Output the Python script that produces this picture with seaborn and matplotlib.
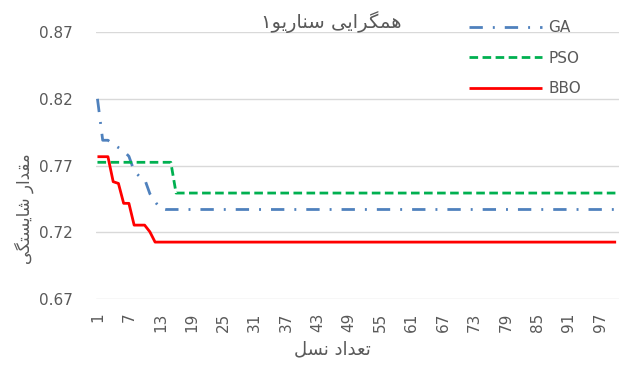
import matplotlib
matplotlib.use("Agg")
import matplotlib.pyplot as plt
import seaborn as sns
import pandas as pd

# ---- data -------------------------------------------------------------
generations = list(range(1, 101))
tick_positions = list(range(1, 101, 6))
y_ticks = [0.67, 0.72, 0.77, 0.82, 0.87]

ga = [
    0.820, 0.789, 0.789, 0.786, 0.7835, 0.781, 0.777, 0.766, 0.762, 0.760,
    0.749, 0.743, 0.738, 0.7372, 0.7372, 0.7372, 0.7372, 0.7372, 0.7372, 0.7372,
    0.7372, 0.7372, 0.7372, 0.7372, 0.7372, 0.7372, 0.7372, 0.7372, 0.7372, 0.7372,
    0.7372, 0.7372, 0.7372, 0.7372, 0.7372, 0.7372, 0.7372, 0.7372, 0.7372, 0.7372,
    0.7372, 0.7372, 0.7372, 0.7372, 0.7372, 0.7372, 0.7372, 0.7372, 0.7372, 0.7372,
    0.7372, 0.7372, 0.7372, 0.7372, 0.7372, 0.7372, 0.7372, 0.7372, 0.7372, 0.7372,
    0.7372, 0.7372, 0.7372, 0.7372, 0.7372, 0.7372, 0.7372, 0.7372, 0.7372, 0.7372,
    0.7372, 0.7372, 0.7372, 0.7372, 0.7372, 0.7372, 0.7372, 0.7372, 0.7372, 0.7372,
    0.7372, 0.7372, 0.7372, 0.7372, 0.7372, 0.7372, 0.7372, 0.7372, 0.7372, 0.7372,
    0.7372, 0.7372, 0.7372, 0.7372, 0.7372, 0.7372, 0.7372, 0.7372, 0.7372, 0.7372,
]

pso = [
    0.7725, 0.7725, 0.7725, 0.7725, 0.7725, 0.7725, 0.7725, 0.7725, 0.7725, 0.7725,
    0.7725, 0.7725, 0.7725, 0.7725, 0.7725, 0.7495, 0.7495, 0.7495, 0.7495, 0.7495,
    0.7495, 0.7495, 0.7495, 0.7495, 0.7495, 0.7495, 0.7495, 0.7495, 0.7495, 0.7495,
    0.7495, 0.7495, 0.7495, 0.7495, 0.7495, 0.7495, 0.7495, 0.7495, 0.7495, 0.7495,
    0.7495, 0.7495, 0.7495, 0.7495, 0.7495, 0.7495, 0.7495, 0.7495, 0.7495, 0.7495,
    0.7495, 0.7495, 0.7495, 0.7495, 0.7495, 0.7495, 0.7495, 0.7495, 0.7495, 0.7495,
    0.7495, 0.7495, 0.7495, 0.7495, 0.7495, 0.7495, 0.7495, 0.7495, 0.7495, 0.7495,
    0.7495, 0.7495, 0.7495, 0.7495, 0.7495, 0.7495, 0.7495, 0.7495, 0.7495, 0.7495,
    0.7495, 0.7495, 0.7495, 0.7495, 0.7495, 0.7495, 0.7495, 0.7495, 0.7495, 0.7495,
    0.7495, 0.7495, 0.7495, 0.7495, 0.7495, 0.7495, 0.7495, 0.7495, 0.7495, 0.7495,
]

bbo = [
    0.7767, 0.7767, 0.7767, 0.758, 0.7567, 0.7418, 0.7418, 0.7255, 0.7255, 0.7255,
    0.7205, 0.7128, 0.7128, 0.7128, 0.7128, 0.7128, 0.7128, 0.7128, 0.7128, 0.7128,
    0.7128, 0.7128, 0.7128, 0.7128, 0.7128, 0.7128, 0.7128, 0.7128, 0.7128, 0.7128,
    0.7128, 0.7128, 0.7128, 0.7128, 0.7128, 0.7128, 0.7128, 0.7128, 0.7128, 0.7128,
    0.7128, 0.7128, 0.7128, 0.7128, 0.7128, 0.7128, 0.7128, 0.7128, 0.7128, 0.7128,
    0.7128, 0.7128, 0.7128, 0.7128, 0.7128, 0.7128, 0.7128, 0.7128, 0.7128, 0.7128,
    0.7128, 0.7128, 0.7128, 0.7128, 0.7128, 0.7128, 0.7128, 0.7128, 0.7128, 0.7128,
    0.7128, 0.7128, 0.7128, 0.7128, 0.7128, 0.7128, 0.7128, 0.7128, 0.7128, 0.7128,
    0.7128, 0.7128, 0.7128, 0.7128, 0.7128, 0.7128, 0.7128, 0.7128, 0.7128, 0.7128,
    0.7128, 0.7128, 0.7128, 0.7128, 0.7128, 0.7128, 0.7128, 0.7128, 0.7128, 0.7128,
]

series_names = ["GA", "PSO", "BBO"]
title_text = "همگرایی سناریو۱"
xlabel_text = "تعداد نسل"
ylabel_text = "مقدار شایستگی"

# ---- Persian shaping (contextual forms + visual order) -----------------
# (isolated, final, initial, medial)
FORMS = {
    "ه": ("\uFEE9", "\uFEEA", "\uFEEB", "\uFEEC"),
    "م": ("\uFEE1", "\uFEE2", "\uFEE3", "\uFEE4"),
    "گ": ("\uFB92", "\uFB93", "\uFB94", "\uFB95"),
    "ی": ("\uFBFC", "\uFBFD", "\uFBFE", "\uFBFF"),
    "س": ("\uFEB1", "\uFEB2", "\uFEB3", "\uFEB4"),
    "ن": ("\uFEE5", "\uFEE6", "\uFEE7", "\uFEE8"),
    "ق": ("\uFED5", "\uFED6", "\uFED7", "\uFED8"),
    "ش": ("\uFEB5", "\uFEB6", "\uFEB7", "\uFEB8"),
    "ت": ("\uFE95", "\uFE96", "\uFE97", "\uFE98"),
    "ع": ("\uFEC9", "\uFECA", "\uFECB", "\uFECC"),
    "ل": ("\uFEDD", "\uFEDE", "\uFEDF", "\uFEE0"),
    "ر": ("\uFEAD", "\uFEAE", None, None),
    "ا": ("\uFE8D", "\uFE8E", None, None),
    "و": ("\uFEED", "\uFEEE", None, None),
    "د": ("\uFEA9", "\uFEAA", None, None),
}
RIGHT_JOINING = set("ارود")


def shape_rtl(text):
    out = []
    for i, ch in enumerate(text):
        if ch not in FORMS:
            out.append(ch)
            continue
        prev = text[i - 1] if i > 0 else ""
        nxt = text[i + 1] if i + 1 < len(text) else ""
        join_prev = prev in FORMS and prev not in RIGHT_JOINING
        join_next = ch not in RIGHT_JOINING and nxt in FORMS
        iso, fin, ini, med = FORMS[ch]
        if join_prev and join_next:
            out.append(med)
        elif join_prev:
            out.append(fin)
        elif join_next:
            out.append(ini)
        else:
            out.append(iso)
    return "".join(reversed(out))


# ---- styling ----------------------------------------------------------
sns.set_theme(style="white")
plt.rcParams["font.family"] = ["DejaVu Sans"]

TEXT_GREY = "#595959"
GRID_GREY = "#D9D9D9"
colors = {"GA": "#4F81BD", "PSO": "#00B050", "BBO": "#FF0000"}
styles = {
    "GA": (0, (4.8, 3.6, 0.7, 3.6)),
    "PSO": (0, (3.1, 1.6)),
    "BBO": "-",
}

W, H = 626, 365
fig = plt.figure(figsize=(W / 100, H / 100), dpi=100)
ax = fig.add_axes([96 / W, 1 - 299.3 / H, (619 - 96) / W, (299.3 - 32) / H])

df = pd.DataFrame({"gen": generations, "GA": ga, "PSO": pso, "BBO": bbo})
for name in series_names:
    sns.lineplot(data=df, x="gen", y=name, ax=ax, color=colors[name],
                 linestyle=styles[name], linewidth=2.0, label=name,
                 solid_capstyle="butt", dash_capstyle="butt", zorder=3)

ax.set_xlim(0.72, 100.55)
ax.set_ylim(0.67, 0.87)
ax.set_yticks(y_ticks)
ax.set_yticklabels([f"{v:.2f}" for v in y_ticks])
ax.set_xticks(tick_positions)
ax.set_xticklabels([str(t) for t in tick_positions], rotation=90)
ax.tick_params(axis="y", length=0, pad=16.5, labelsize=11, labelcolor=TEXT_GREY)
ax.tick_params(axis="x", length=0, pad=9.5, labelsize=11, labelcolor=TEXT_GREY)
ax.grid(axis="y", color=GRID_GREY, linewidth=1.0, zorder=0)
ax.grid(axis="x", visible=False)
for sp in ax.spines.values():
    sp.set_visible(False)
ax.set_xlabel("")
ax.set_ylabel("")
ax.get_legend().remove()

handles, labels = ax.get_legend_handles_labels()
fig.legend(handles, labels, loc="upper left",
           bbox_to_anchor=(469 / W, 1 - 20.5 / H), frameon=False,
           fontsize=11, labelcolor=TEXT_GREY, handlelength=4.8,
           handletextpad=0.4, labelspacing=1.0, borderpad=0,
           borderaxespad=0)

fig.text(331 / W, 1 - 22 / H, shape_rtl(title_text), ha="center", va="center",
         fontsize=14, color=TEXT_GREY)
fig.text(332 / W, 1 - 349 / H, shape_rtl(xlabel_text), ha="center",
         va="center", fontsize=13, color=TEXT_GREY)
fig.text(24 / W, 1 - 209 / H, shape_rtl(ylabel_text), ha="center",
         va="center", rotation=90, fontsize=12, color=TEXT_GREY)

fig.savefig("out.png", dpi=100, facecolor="white")
